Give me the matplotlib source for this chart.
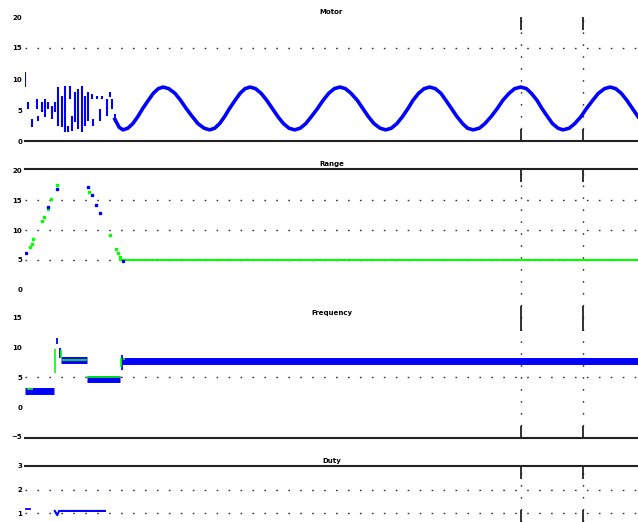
import matplotlib
matplotlib.use("Agg")
import matplotlib.pyplot as plt

BLUE = "#0000ff"
GREEN = "#00ff00"
DOT = (0, (1.2, 7.4))

# ---- panel 1: motor signal ----
noise_t = [0.0, 0.05, 0.11, 0.19, 0.21, 0.27, 0.32, 0.37, 0.44, 0.48, 0.53, 0.6, 0.65,
           0.69, 0.73, 0.76, 0.81, 0.85, 0.92, 0.97, 1.02, 1.08, 1.10, 1.16, 1.21, 1.24,
           1.32, 1.37, 1.40, 1.45]
noise_lo = [8.7, 5.2, 2.3, 5.2, 3.2, 4.7, 3.9, 5.2, 3.5, 4.7, 2.4, 2.3, 1.5,
            1.5, 6.8, 1.6, 3.1, 1.9, 1.5, 2.4, 3.2, 6.8, 2.4, 6.8, 3.2, 6.8,
            4.0, 7.1, 5.2, 3.5]
noise_hi = [11.1, 6.3, 3.5, 6.8, 4.0, 6.3, 6.8, 6.3, 5.6, 6.3, 8.7, 7.3, 8.9,
            2.4, 8.9, 4.0, 7.9, 8.4, 8.9, 7.3, 7.9, 7.6, 3.5, 7.3, 5.2, 7.3,
            6.8, 7.9, 6.8, 4.4]
wave_t = [1.45, 1.52,
          1.58, 1.66, 1.74, 1.82, 1.90, 1.99, 2.07, 2.15,
          2.23, 2.32, 2.42, 2.51, 2.60, 2.70, 2.79, 2.89,
          2.98, 3.06, 3.14, 3.22, 3.30, 3.39, 3.47, 3.55,
          3.63, 3.72, 3.81, 3.90, 3.99, 4.08, 4.17, 4.26,
          4.35, 4.44, 4.53, 4.62, 4.72, 4.81, 4.90, 4.99,
          5.08, 5.17, 5.26, 5.36, 5.45, 5.54, 5.63, 5.73,
          5.82, 5.91, 6.00, 6.09, 6.18, 6.26, 6.35, 6.44,
          6.53, 6.62, 6.71, 6.79, 6.88, 6.97, 7.06, 7.14,
          7.23, 7.33, 7.42, 7.52, 7.62, 7.71, 7.81, 7.90,
          8.00, 8.09, 8.17, 8.26, 8.34, 8.43, 8.51, 8.60,
          8.68, 8.78, 8.87, 8.97, 9.06, 9.16, 9.25, 9.35,
          9.44, 9.53, 9.62, 9.71, 9.80, 9.89]
wave_v = [3.5, 2.2,
          1.8, 2.06, 2.81, 3.93, 5.25, 6.57, 7.69, 8.44,
          8.7, 8.44, 7.69, 6.57, 5.25, 3.93, 2.81, 2.06,
          1.8, 2.06, 2.81, 3.93, 5.25, 6.57, 7.69, 8.44,
          8.7, 8.44, 7.69, 6.57, 5.25, 3.93, 2.81, 2.06,
          1.8, 2.06, 2.81, 3.93, 5.25, 6.57, 7.69, 8.44,
          8.7, 8.44, 7.69, 6.57, 5.25, 3.93, 2.81, 2.06,
          1.8, 2.06, 2.81, 3.93, 5.25, 6.57, 7.69, 8.44,
          8.7, 8.44, 7.69, 6.57, 5.25, 3.93, 2.81, 2.06,
          1.8, 2.06, 2.81, 3.93, 5.25, 6.57, 7.69, 8.44,
          8.7, 8.44, 7.69, 6.57, 5.25, 3.93, 2.81, 2.06,
          1.8, 2.06, 2.81, 3.93, 5.25, 6.57, 7.69, 8.44,
          8.7, 8.44, 7.69, 6.57, 5.25, 3.93]

# ---- panel 2: range ----
range_green_t = [0.08, 0.11, 0.13, 0.27, 0.31, 0.37, 0.42, 0.52, 1.03, 1.37, 1.47, 1.50, 1.53]
range_green_v = [7.2, 7.7, 8.5, 11.5, 12.2, 13.5, 15.2, 17.5, 16.3, 9.2, 6.8, 6.2, 5.5]
range_blue_t = [0.02, 0.37, 0.52, 1.02, 1.08, 1.15, 1.21, 1.58]
range_blue_v = [6.2, 13.8, 16.8, 17.2, 15.8, 14.2, 12.8, 4.8]
range_flat_t = [1.53, 9.89]
range_flat_v = [5.0, 5.0]

# ---- panel 3: frequency ----
band_start = [0.0, 0.58, 1.0, 1.55]
band_end = [0.47, 1.0, 1.53, 9.89]
band_level = [2.75, 7.9, 4.8, 7.8]
freq_green_start = [0.03, 0.60, 1.0, 1.56]
freq_green_end = [0.13, 1.0, 1.53, 1.62]
freq_green_level = [3.1, 7.9, 5.0, 8.1]
spike_blue_t = [0.52, 0.57, 1.56]
spike_blue_lo = [10.7, 8.3, 6.3]
spike_blue_hi = [11.7, 10.0, 8.7]
spike_green_t = [0.49, 0.58, 1.55]
spike_green_lo = [5.8, 8.3, 6.7]
spike_green_hi = [9.8, 9.6, 8.2]

# ---- panel 4: duty ----
duty_t = [0.0, 0.08]
duty_v = [1.17, 1.17]
duty2_t = [0.48, 0.52, 0.55, 1.29]
duty2_v = [1.09, 0.91, 1.09, 1.09]

xmarks = [8, 9]
titles = ["Motor", "Range", "Frequency", "Duty"]

fig = plt.figure(figsize=(6.38, 5.22), dpi=100)
W, H = 638.0, 522.0
left = 25 / W


def make_axes(top_px, bot_px, ylim, yticks, grid_vals, title, show_top, show_bottom):
    ax = fig.add_axes([left, 1 - bot_px / H, 1 - left, (bot_px - top_px) / H])
    ax.set_xlim(0, 9.89)
    ax.set_ylim(*ylim)
    ax.set_yticks(yticks)
    ax.set_xticks(xmarks)
    ax.tick_params(axis="x", direction="in", length=9, width=1.3, top=True,
                   bottom=True, labelbottom=False, color="#222222")
    ax.tick_params(axis="y", length=0, pad=2, labelsize=5)
    for lab in ax.get_yticklabels():
        lab.set_fontweight("bold")
    for s in ["left", "right"]:
        ax.spines[s].set_visible(False)
    ax.spines["top"].set_visible(show_top)
    ax.spines["bottom"].set_visible(show_bottom)
    for s in ["top", "bottom"]:
        ax.spines[s].set_linewidth(1.5)
        ax.spines[s].set_color("#222222")
    for g in grid_vals:
        ax.axhline(g, color="#333333", lw=1.0, ls=DOT, zorder=0)
    for xm in xmarks:
        ax.axvline(xm, color="#333333", lw=1.0, ls=DOT, zorder=0)
    ax.set_title(title, fontsize=5, fontweight="bold", pad=2)
    ax.patch.set_alpha(0)
    return ax


ax1 = make_axes(17, 141, (0, 20), [0, 5, 10, 15, 20], [15], titles[0], False, True)
ax1.vlines(noise_t, noise_lo, noise_hi, color=BLUE, lw=1.5)
ax1.plot(wave_t, wave_v, color=BLUE, lw=2.6, solid_joinstyle="round")

ax2 = make_axes(169, 318, (-4.67, 20.17), [0, 5, 10, 15, 20], [5, 10, 15], titles[1], True, False)
ax2.plot(range_flat_t, range_flat_v, color=GREEN, lw=1.5)
ax2.plot(range_green_t, range_green_v, ls="none", marker="s", ms=1.5, color=GREEN)
ax2.plot(range_blue_t, range_blue_v, ls="none", marker="s", ms=1.5, color=BLUE)

ax3 = make_axes(318, 438, (-5.17, 15), [-5, 0, 5, 10, 15], [5], titles[2], False, True)
ax3.hlines(band_level, band_start, band_end, color=BLUE, lw=5)
ax3.hlines(freq_green_level, freq_green_start, freq_green_end, color=GREEN, lw=1.2)
ax3.vlines(spike_blue_t, spike_blue_lo, spike_blue_hi, color=BLUE, lw=1.3)
ax3.vlines(spike_green_t, spike_green_lo, spike_green_hi, color=GREEN, lw=1.2)

ax4 = make_axes(466, 522, (0.62, 3), [1, 2, 3], [1, 2], titles[3], True, False)
ax4.plot(duty_t, duty_v, color=BLUE, lw=1.3)
ax4.plot(duty2_t, duty2_v, color=BLUE, lw=1.5)

fig.savefig("out.png", dpi=100)
